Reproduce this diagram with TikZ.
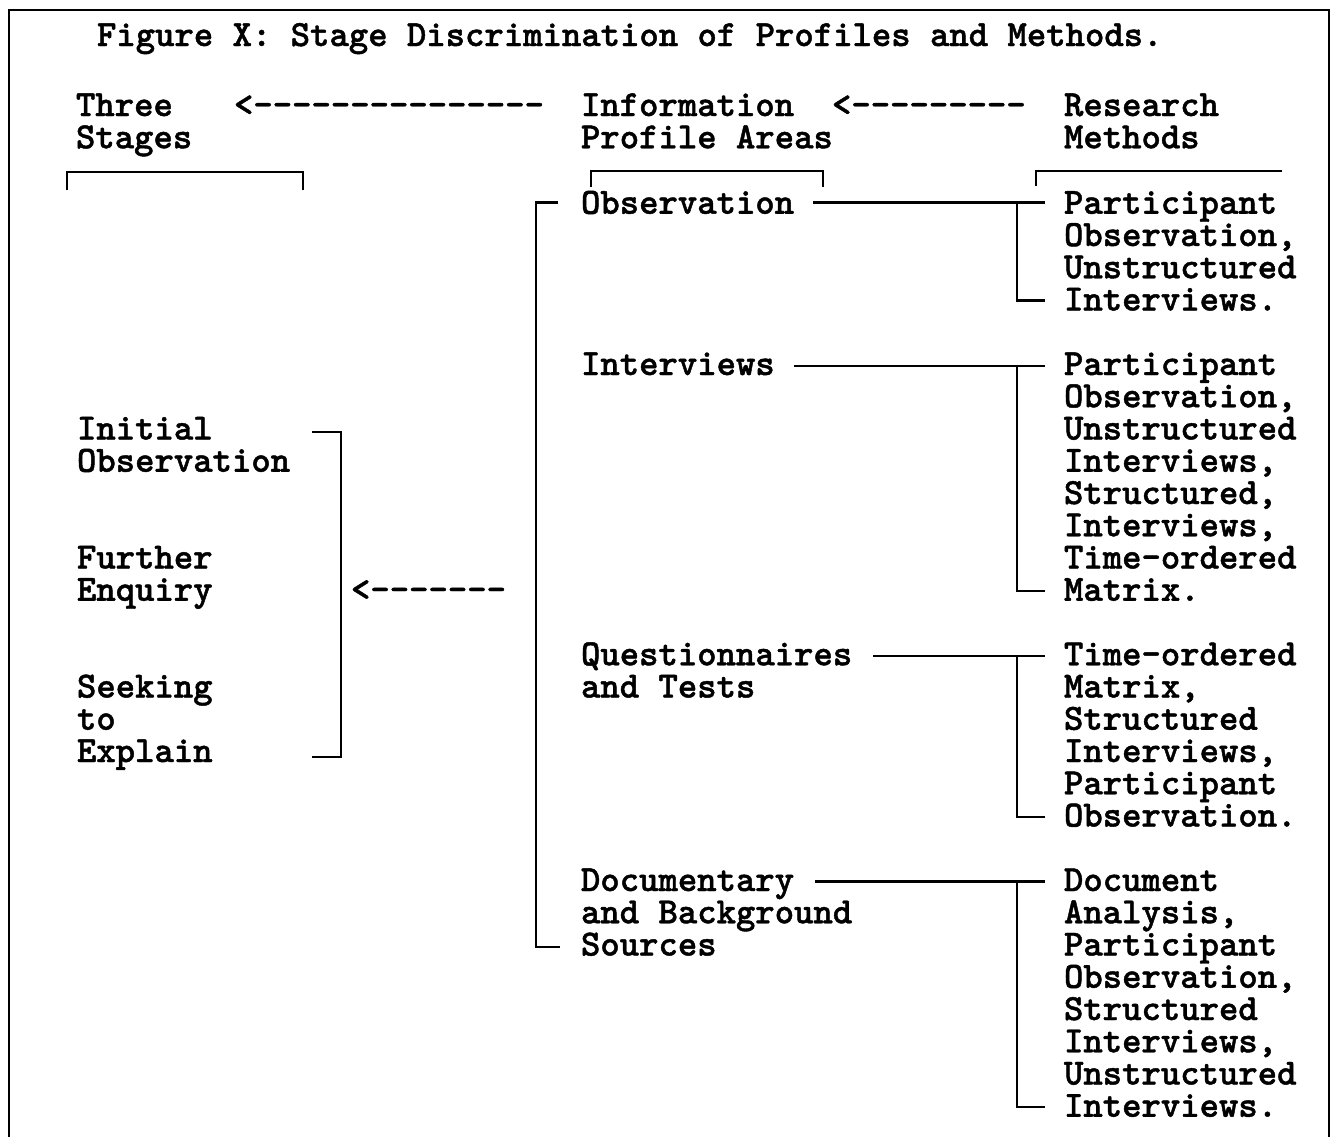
\documentclass[tikz,border=0pt]{standalone}
\usepackage{fontspec}
\newfontfamily\monof[FakeBold=1.2]{lmmonolt10-bold.otf}
\newcommand\mfont{\monof\fontsize{18.45pt}{16.125pt}\selectfont}
\newcommand\st{\rule{0pt}{14pt}}
\begin{document}
\begin{tikzpicture}[x=0.5pt,y=-0.5pt,
  txt/.style={anchor=north west,inner sep=0pt,outer sep=0pt,align=left,font=\mfont,yshift=14pt},
  ln/.style={line width=1.3pt},
  thinln/.style={line width=1pt},
  frm/.style={line width=1.3pt}]
\useasboundingbox (0,0) rectangle (1336,1136);
% frame
\draw[frm] (9,1150) -- (9,10) -- (1329,10) -- (1329,1150);
% texts
\node[txt] (title) at (97,46) {\st Figure X: Stage Discrimination of Profiles and Methods.};
\node[txt] (three) at (76,116) {\st Three\\Stages};
\node[txt] (arr1) at (234,116) {\st<---------------};
\node[txt] (info) at (581,116) {\st Information\\Profile Areas};
\node[txt] (arr2) at (832,116) {\st<---------};
\node[txt] (rm) at (1064,116) {\st Research\\Methods};
\node[txt] (s1) at (77,439.5) {\st Initial\\Observation};
\node[txt] (s2) at (77,568.5) {\st Further\\Enquiry};
\node[txt] (s3) at (77,697.5) {\st Seeking\\to\\Explain};
\node[txt] (arr3) at (351,600.75) {\st<-------};
\node[txt] (p1) at (581,213.75) {\st Observation};
\node[txt] (p2) at (581,375) {\st Interviews};
\node[txt] (p3) at (581,665.25) {\st Questionnaires\\and Tests};
\node[txt] (p4) at (581,891) {\st Documentary\\and Background\\Sources};
\node[txt] (m1) at (1064,213.75) {\st Participant\\Observation,\\Unstructured\\Interviews.};
\node[txt] (m2) at (1064,375) {\st Participant\\Observation,\\Unstructured\\Interviews,\\Structured,\\Interviews,\\Time-ordered\\Matrix.};
\node[txt] (m3) at (1064,665.25) {\st Time-ordered\\Matrix,\\Structured\\Interviews,\\Participant\\Observation.};
\node[txt] (m4) at (1064,891) {\st Document\\Analysis,\\Participant\\Observation,\\Structured\\Interviews,\\Unstructured\\Interviews.};
% header brackets
\draw[thinln] (67,190) -- (67,172) -- (303,172) -- (303,190);
\draw[thinln] (591,187) -- (591,171) -- (823,171) -- (823,187);
\draw[thinln] (1036,186) -- (1036,171) -- (1282,171);
% stage bracket
\coordinate (sb1) at (312,432);
\coordinate (sb2) at (312,757);
\draw[ln] (sb1) -- (341,432) -- (341,757) -- (sb2);
% profile-area bracket
\coordinate (pb1) at (558,202.5);
\coordinate (pb2) at (560,947);
\draw[ln] (pb1) -- (536,202.5) -- (536,947) -- (pb2);
% connectors to research methods
\coordinate (p1r) at (813,202.5);  \coordinate (m1t) at (1045,202.5); \coordinate (m1b) at (1045,300.5);
\coordinate (p2r) at (794,366);    \coordinate (m2t) at (1045,366);   \coordinate (m2b) at (1045,591);
\coordinate (p3r) at (873,656);    \coordinate (m3t) at (1045,656);   \coordinate (m3b) at (1045,817);
\coordinate (p4r) at (815,881.5);  \coordinate (m4t) at (1045,881.5); \coordinate (m4b) at (1045,1107);
\draw[ln] (p1r) -- (m1t); \draw[ln] (1017,202.5) -- (1017,300.5) -- (m1b);
\draw[ln] (p2r) -- (m2t); \draw[ln] (1017,366) -- (1017,591) -- (m2b);
\draw[ln] (p3r) -- (m3t); \draw[ln] (1017,656) -- (1017,817) -- (m3b);
\draw[ln] (p4r) -- (m4t); \draw[ln] (1017,881.5) -- (1017,1107) -- (m4b);
\end{tikzpicture}
\end{document}
